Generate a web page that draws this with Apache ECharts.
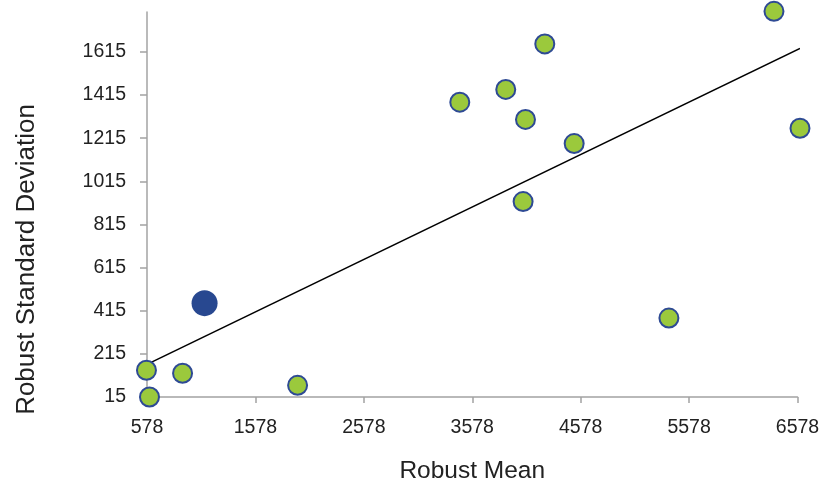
<!DOCTYPE html>
<html><head><meta charset="utf-8">
<script src="https://cdn.jsdelivr.net/npm/echarts@6/dist/echarts.min.js"></script>
<style>html,body{margin:0;padding:0;background:#fff}#c{width:821px;height:485px}</style>
</head><body><div id="c"></div>
<script>
const xTicks = [578, 1578, 2578, 3578, 4578, 5578, 6578];
const yTicks = [15, 215, 415, 615, 815, 1015, 1215, 1415, 1615];
const labMeans = [573, 601, 906, 1967, 3463, 3887, 4069, 4247, 4518, 4047, 6361, 6601, 5392];
const labSDs   = [139, 15, 125, 69, 1382, 1441, 1302, 1652, 1190, 921, 1803, 1261, 381];
const highlightMean = [1109];
const highlightSD = [450];
const trendX = [573, 6601];
const trendY = [165, 1631];

const chart = echarts.init(document.getElementById('c'));
const font = '"Liberation Sans", Arial, sans-serif';
const axisColor = '#a3a3a3';
chart.setOption({
  animation: false,
  grid: {left: 147, right: 23.5, top: 12, bottom: 88, outerBoundsMode: 'none', containLabel: false},
  xAxis: {
    type: 'value', min: 578, max: 6578,
    name: 'Robust Mean', nameLocation: 'middle', nameGap: 62,
    nameTextStyle: {fontFamily: font, fontSize: 24.5, color: '#222'},
    axisLine: {show: true, lineStyle: {color: axisColor, width: 1.5}},
    axisTick: {show: true, length: 6, lineStyle: {color: axisColor, width: 1.5}, customValues: xTicks},
    axisLabel: {fontFamily: font, fontSize: 19.5, color: '#222', margin: 21, customValues: xTicks,
      formatter: v => String(v)},
    splitLine: {show: false}
  },
  yAxis: {
    type: 'value', min: 15, max: 1800,
    name: 'Robust Standard Deviation', nameLocation: 'middle', nameGap: 107,
    nameTextStyle: {fontFamily: font, fontSize: 26, color: '#222', padding: [0, 110, 0, 0]},
    axisLine: {show: true, lineStyle: {color: axisColor, width: 1.5}},
    axisTick: {show: true, length: 7, lineStyle: {color: axisColor, width: 1.5}, customValues: yTicks},
    axisLabel: {fontFamily: font, fontSize: 19.5, color: '#222', margin: 21, customValues: yTicks,
      formatter: v => String(v)},
    splitLine: {show: false}
  },
  series: [
    {
      type: 'line', data: trendX.map((x, i) => [x, trendY[i]]), clip: false,
      symbol: 'none', lineStyle: {color: '#000', width: 1.6}, z: 1
    },
    {
      type: 'scatter', data: labMeans.map((x, i) => [x, labSDs[i]]), clip: false,
      symbolSize: 19,
      itemStyle: {color: '#9bc93c', borderColor: '#2e4a94', borderWidth: 2, opacity: 1}, z: 3
    },
    {
      type: 'scatter', data: highlightMean.map((x, i) => [x, highlightSD[i]]), clip: false,
      symbolSize: 26,
      itemStyle: {color: '#284890', opacity: 1}, z: 3
    }
  ]
});
</script></body></html>
